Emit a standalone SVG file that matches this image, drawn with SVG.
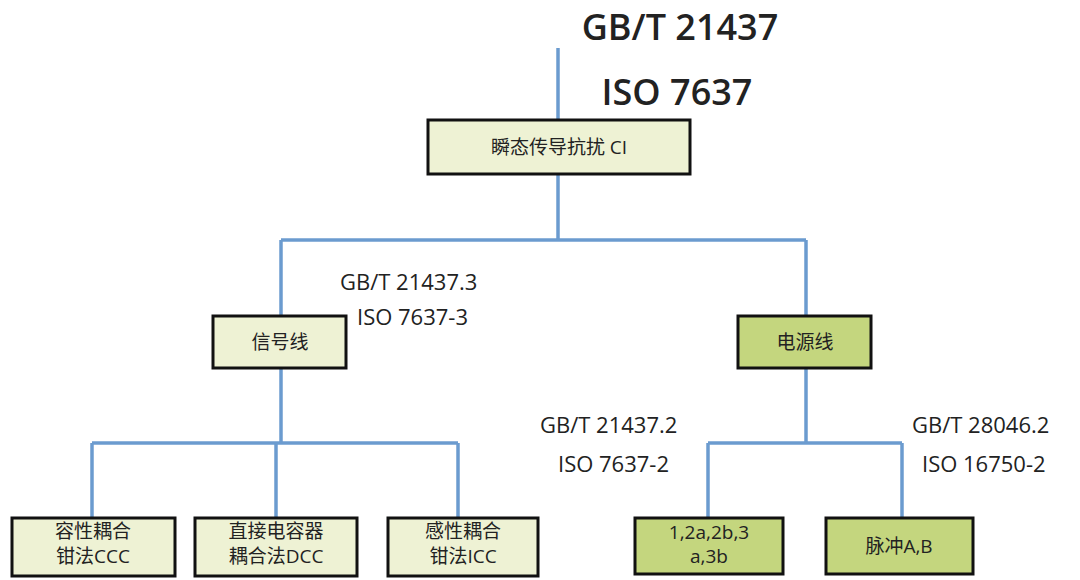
<svg xmlns="http://www.w3.org/2000/svg" width="1080" height="580" viewBox="0 0 1080 580">
<style>
.b{stroke:#111;stroke-width:3}
.l{fill:#eef2d4}
.g{fill:#c4d67e}
.c line{stroke:#6b9bcf;stroke-width:3.5}
text{font-family:"Open Sans","Noto Sans CJK SC",sans-serif;fill:#222}
.n{font-size:19px;text-anchor:middle}
.s{font-size:22px}
.h{font-size:36px;font-weight:600}
</style>
<rect width="1080" height="580" fill="#fff"/>
<g class="c">
<line x1="558" y1="48" x2="558" y2="120"/>
<line x1="558" y1="174" x2="558" y2="240"/>
<line x1="281" y1="240" x2="806" y2="240"/>
<line x1="281" y1="240" x2="281" y2="316"/>
<line x1="806" y1="240" x2="806" y2="316"/>
<line x1="281" y1="368" x2="281" y2="443"/>
<line x1="92" y1="443" x2="458" y2="443"/>
<line x1="92" y1="443" x2="92" y2="518"/>
<line x1="276" y1="443" x2="276" y2="518"/>
<line x1="458" y1="443" x2="458" y2="518"/>
<line x1="806" y1="368" x2="806" y2="443"/>
<line x1="708" y1="443" x2="902" y2="443"/>
<line x1="708" y1="443" x2="708" y2="518"/>
<line x1="902" y1="443" x2="902" y2="518"/>
</g>
<text class="h" x="680" y="40" text-anchor="middle">GB/T 21437</text>
<text class="h" x="677" y="105" text-anchor="middle">ISO 7637</text>
<text class="s" x="340" y="290">GB/T 21437.3</text>
<text class="s" x="357" y="325">ISO 7637-3</text>
<text class="s" x="540" y="433">GB/T 21437.2</text>
<text class="s" x="558" y="472">ISO 7637-2</text>
<text class="s" x="912" y="433">GB/T 28046.2</text>
<text class="s" x="922" y="472">ISO 16750-2</text>
<g id="ci"><rect class="b l" x="428" y="120" width="262" height="54"/><text class="n" x="559" y="154">瞬态传导抗扰 CI</text></g>
<g id="sig"><rect class="b l" x="213" y="316" width="133" height="52"/><text class="n" x="280" y="349">信号线</text></g>
<g id="pwr"><rect class="b g" x="738" y="316" width="133" height="52"/><text class="n" x="805" y="349">电源线</text></g>
<g id="ccc"><rect class="b l" x="12" y="518" width="163" height="58"/><text class="n" x="93" y="538">容性耦合</text><text class="n" x="93" y="563">钳法CCC</text></g>
<g id="dcc"><rect class="b l" x="195" y="518" width="162" height="58"/><text class="n" x="276" y="538">直接电容器</text><text class="n" x="276" y="563">耦合法DCC</text></g>
<g id="icc"><rect class="b l" x="388" y="518" width="150" height="58"/><text class="n" x="463" y="538">感性耦合</text><text class="n" x="463" y="563">钳法ICC</text></g>
<g id="p1"><rect class="b g" x="635" y="518" width="148" height="56"/><text class="n" x="709" y="539">1,2a,2b,3</text><text class="n" x="709" y="563">a,3b</text></g>
<g id="pab"><rect class="b g" x="826" y="518" width="147" height="56"/><text class="n" x="899" y="553">脉冲A,B</text></g>
</svg>
